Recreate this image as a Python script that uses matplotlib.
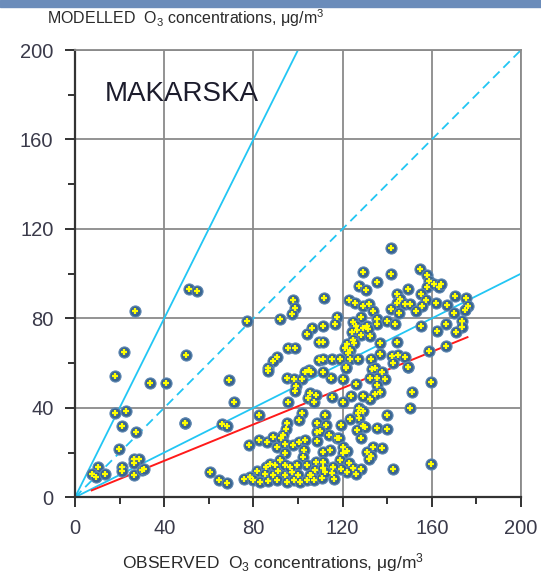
import numpy as np
import matplotlib
matplotlib.use("Agg")
import matplotlib.pyplot as plt
from matplotlib.patches import Rectangle

plt.rcParams['font.family'] = ['Liberation Sans', 'DejaVu Sans']
plt.rcParams['mathtext.fontset'] = 'custom'
plt.rcParams['mathtext.rm'] = 'Liberation Sans'
plt.rcParams['mathtext.it'] = 'Liberation Sans'

# observed / modelled O3 pairs (ug/m3)
obs = [27.0, 22.0, 18.1, 33.5, 40.8, 18.1, 22.7, 21.2, 27.2, 19.6, 26.6, 28.7, 26.6, 21.1, 21.1,
       10.5, 7.5, 9.3, 13.6, 26.6, 29.9, 30.8, 49.5, 51.3, 54.8, 49.8,
       77.3, 97.9, 98.7, 97.2, 91.9, 106.4, 103.9, 109.6, 95.6, 98.7, 90.4, 88.6, 86.7, 105.0, 109.6,
       141.8, 129.0, 141.8, 154.8, 158.0, 158.6, 158.0, 161.1, 163.4, 164.0, 135.3, 127.5, 130.5,
       149.5, 144.2, 145.6, 155.0, 157.4, 155.7, 111.7, 123.0, 125.4, 129.3, 131.7, 133.8,
       144.2, 148.0, 150.2, 141.8, 145.2, 152.8, 162.0, 166.7, 170.3, 175.2, 176.4, 174.7, 170.1,
       117.3, 116.4, 128.3, 111.1, 135.3, 135.3, 139.8, 143.5, 124.8, 125.9, 129.0, 126.3, 124.3,
       128.4, 132.3, 130.8, 131.5, 155.0, 166.4, 173.4, 173.4, 171.0, 162.5, 111.1, 124.8, 121.8,
       125.1, 121.2, 136.8, 144.2, 123.3, 122.4, 136.8, 142.0, 145.0, 148.2, 158.6, 166.4,
       111.1, 115.1, 118.8, 123.3, 127.0, 132.7, 142.4, 149.5, 121.5,
       86.7, 69.2, 71.3, 95.6, 94.9, 98.2, 101.9, 103.1, 105.7, 99.0, 98.7, 104.3, 105.4, 107.2,
       107.9, 82.6, 49.2, 66.1, 68.3, 101.8, 100.4, 94.9, 94.5, 93.4, 108.4, 108.4, 78.2,
       82.6, 86.0, 88.9, 90.4, 92.4, 94.2, 94.2, 97.9, 100.6, 103.1, 108.4,
       102.7, 102.4, 104.2, 107.9, 107.6, 105.8, 60.7, 64.6, 68.3,
       81.5, 85.7, 85.2, 78.5, 75.8, 79.7, 83.0, 86.7, 88.9, 91.2, 94.2, 90.7, 94.9, 97.2, 99.4,
       100.1, 98.2, 100.9, 103.9, 105.4, 107.2, 87.4, 89.7, 91.9, 94.2, 96.4,
       159.5, 151.1, 150.2, 159.5, 142.7, 149.5,
       133.0, 134.5, 137.7, 139.0, 135.3, 132.3, 135.3, 136.8, 134.5, 132.3, 129.1, 126.1, 123.8,
       120.1, 115.3, 120.1, 114.7, 111.4, 121.4, 139.8,
       127.5, 129.3, 126.8, 127.5, 123.3, 119.3, 112.0, 112.6, 109.9, 114.1, 117.3, 118.6,
       135.3, 139.8, 129.0, 130.0, 126.6, 128.1, 120.1, 121.8, 120.1, 114.3, 111.4,
       133.8, 137.5, 130.8, 132.6, 132.0,
       118.8, 123.0, 124.8, 128.1, 126.0, 121.8, 119.1, 115.8, 115.2, 116.1, 111.4, 111.1, 110.7, 112.2]
mod = [83.2, 65.1, 54.3, 51.3, 51.3, 37.6, 38.5, 31.8, 29.4, 21.8, 17.3, 17.3, 15.2, 13.7, 11.8,
       13.7, 10.4, 8.9, 10.6, 9.8, 12.2, 12.5, 33.2, 93.2, 92.4, 63.7,
       78.7, 88.0, 84.8, 81.9, 79.6, 75.9, 72.9, 69.6, 66.7, 66.7, 62.9, 61.0, 57.7, 57.0, 61.4,
       111.4, 100.8, 99.9, 102.3, 99.3, 96.8, 94.0, 95.3, 94.2, 95.4, 96.2, 94.7, 92.8,
       93.3, 90.8, 88.7, 90.8, 88.0, 85.6, 89.3, 88.0, 87.1, 85.7, 86.6, 83.4,
       87.1, 86.5, 86.5, 84.3, 82.6, 83.2, 87.1, 86.2, 90.1, 88.9, 85.5, 83.8, 82.6,
       80.7, 77.4, 80.7, 76.6, 79.9, 77.4, 78.7, 77.7, 78.3, 76.8, 75.9, 74.9, 74.0,
       72.6, 72.2, 76.8, 75.2, 76.6, 77.4, 78.9, 76.3, 73.9, 74.3, 69.6, 70.4, 68.7,
       68.9, 66.7, 69.2, 69.6, 65.9, 64.4, 64.0, 63.2, 63.7, 62.9, 65.5, 67.7,
       61.8, 61.8, 61.8, 61.8, 61.8, 61.8, 60.0, 58.4, 58.4,
       56.6, 52.4, 42.5, 42.5, 53.5, 52.9, 52.9, 56.2, 56.2, 49.9, 47.6, 44.6, 46.5, 42.8,
       45.8, 36.8, 33.1, 32.7, 31.8, 37.9, 34.6, 33.4, 30.4, 27.9, 33.1, 29.4, 23.4,
       25.6, 24.9, 27.1, 22.6, 26.7, 23.8, 19.7, 23.4, 24.6, 25.5, 25.2,
       21.2, 18.2, 14.5, 15.9, 12.2, 10.0, 11.2, 7.6, 6.3,
       11.8, 13.7, 10.3, 9.2, 8.2, 7.7, 6.7, 7.3, 10.0, 11.8, 10.0, 7.7, 6.7, 11.5, 14.5,
       10.0, 7.7, 6.7, 7.7, 10.0, 7.7, 14.8, 14.5, 16.7, 14.5, 13.7,
       51.5, 47.0, 40.1, 15.0, 12.7, 58.3,
       57.4, 58.0, 55.9, 52.9, 53.2, 53.2, 50.2, 47.0, 46.1, 44.0, 45.4, 50.6, 45.3,
       52.9, 44.7, 42.8, 53.5, 55.9, 58.0, 36.8,
       40.1, 38.6, 37.6, 35.6, 34.9, 32.3, 36.8, 32.3, 29.7, 27.9, 26.7, 26.7,
       31.1, 30.4, 31.9, 31.6, 30.0, 26.4, 22.6, 20.8, 19.8, 21.0, 20.1,
       22.6, 22.2, 20.1, 18.6, 17.0,
       16.7, 15.2, 12.9, 12.6, 10.2, 11.4, 12.6, 13.6, 10.7, 8.2, 15.9, 12.9, 8.8, 11.2]

# reference lines: 2:1, 1:1, 1:2 and the regression line
ref_slopes = [2.0, 1.0, 0.5]
ref_styles = ['-', '--', '-']
fit_x = [7.5, 176.0]
fit_y = [3.1, 71.6]

station = "MAKARSKA"

fig = plt.figure(figsize=(5.41, 5.75), dpi=100)
fig.patches.append(Rectangle((0, 1 - 7 / 575), 1, 7 / 575, transform=fig.transFigure,
                             color='#6b8cba', zorder=0))
ax = fig.add_axes([75 / 541, 1 - 497.3 / 575, 446 / 541, 447.3 / 575])

xs = np.array([0, 200])
for s, ls in zip(ref_slopes, ref_styles):
    ax.plot(xs, s * xs, color='#22c6f4', lw=1.3, ls=ls, dashes=(5, 3) if ls == '--' else (None, None),
            zorder=2)
ax.plot(fit_x, fit_y, color='#ff1a1a', lw=1.4, zorder=2)

ax.plot(obs, mod, 'o', ms=8, mfc='#3a6590', mec='#5f88b2', mew=0.8, zorder=3, ls='none')
ax.plot(obs, mod, '+', ms=5, color='#ffff00', mew=1.6, zorder=4, ls='none')

ax.set_xlim(0, 200)
ax.set_ylim(0, 200)
ticks = np.arange(0, 201, 40)
ax.set_xticks(ticks)
ax.set_yticks(ticks)
ax.set_xticks(np.arange(20, 200, 40), minor=True)
ax.set_yticks(np.arange(20, 200, 40), minor=True)
ax.grid(True, which='major', color='#8a8a8a', lw=1.3, zorder=1)
ax.tick_params(which='major', length=7.5, width=1.3, color='#222222', pad=8,
               labelsize=14.5, labelcolor='#3a3a4a')
ax.tick_params(which='minor', length=5, width=1.3, color='#222222')
for side in ['left', 'bottom']:
    ax.spines[side].set_color('#333333')
    ax.spines[side].set_linewidth(1.6)
for side in ['top', 'right']:
    ax.spines[side].set_color('#8a8a8a')
    ax.spines[side].set_linewidth(1.3)

ax.text(13.5, 180.5, station, fontsize=20, color='#1c1c2c', va='center', ha='left')

fig.text(47 / 541, 1 - 18 / 575, r"MODELLED  O$_3$ concentrations, $\mu$g/m$^3$",
         fontsize=11.5, color='#2a2a2a', va='center', ha='left')
fig.text(122 / 541, 1 - 563 / 575, r"OBSERVED  O$_3$ concentrations, $\mu$g/m$^3$",
         fontsize=12.5, color='#2a2a2a', va='center', ha='left')

fig.savefig("out.png", dpi=100)
